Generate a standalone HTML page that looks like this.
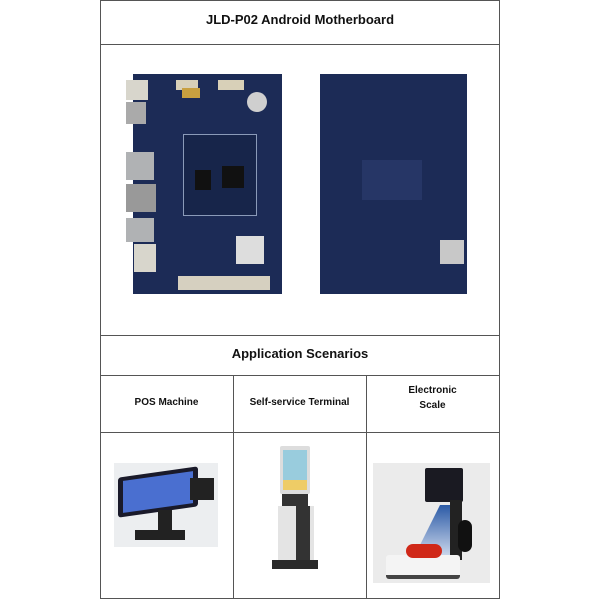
<!DOCTYPE html>
<html><head><style>
body{margin:0;width:600px;height:600px;background:#fff;position:relative;overflow:hidden;font-family:"Liberation Sans",sans-serif}
.a{position:absolute}
.l{position:absolute;background:#555}
.t{position:absolute;font-weight:bold;color:#111;text-align:center}
</style></head><body>
<div class="l" style="left:100px;top:0;width:1px;height:599px"></div>
<div class="l" style="left:499px;top:0;width:1px;height:599px"></div>
<div class="l" style="left:100px;top:0;width:400px;height:1px"></div>
<div class="l" style="left:100px;top:44px;width:400px;height:1px"></div>
<div class="l" style="left:100px;top:335px;width:400px;height:1px"></div>
<div class="l" style="left:100px;top:375px;width:400px;height:1px"></div>
<div class="l" style="left:100px;top:432px;width:400px;height:1px"></div>
<div class="l" style="left:100px;top:598px;width:400px;height:1px"></div>
<div class="l" style="left:233px;top:375px;width:1px;height:224px"></div>
<div class="l" style="left:366px;top:375px;width:1px;height:224px"></div>

<div class="t" style="left:100px;top:12px;width:400px;font-size:13px">JLD-P02 Android Motherboard</div>
<div class="t" style="left:100px;top:346px;width:400px;font-size:13px">Application Scenarios</div>
<div class="t" style="left:100px;top:397px;width:133px;font-size:10px">POS Machine</div>
<div class="t" style="left:233px;top:397px;width:133px;font-size:10px">Self-service Terminal</div>
<div class="t" style="left:366px;top:383px;width:133px;font-size:10px;line-height:15px">Electronic<br>Scale</div>

<!-- boards -->
<div class="a" style="left:133px;top:74px;width:149px;height:220px;background:#1c2b56"></div>
<div class="a" style="left:176px;top:80px;width:22px;height:10px;background:#d8d0b8"></div>
<div class="a" style="left:218px;top:80px;width:26px;height:10px;background:#d8d0b8"></div>
<div class="a" style="left:182px;top:88px;width:18px;height:10px;background:#c8a040"></div>
<div class="a" style="left:126px;top:80px;width:22px;height:20px;background:#d8d6cc"></div>
<div class="a" style="left:126px;top:102px;width:20px;height:22px;background:#aaa"></div>
<div class="a" style="left:126px;top:152px;width:28px;height:28px;background:#b0b2b4"></div>
<div class="a" style="left:126px;top:184px;width:30px;height:28px;background:#999"></div>
<div class="a" style="left:126px;top:218px;width:28px;height:24px;background:#b0b2b4"></div>
<div class="a" style="left:134px;top:244px;width:22px;height:28px;background:#d8d6cc"></div>
<div class="a" style="left:183px;top:134px;width:72px;height:80px;background:#17254a;border:1px solid #8a9ab8"></div>
<div class="a" style="left:222px;top:166px;width:22px;height:22px;background:#111"></div>
<div class="a" style="left:195px;top:170px;width:16px;height:20px;background:#111"></div>
<div class="a" style="left:247px;top:92px;width:20px;height:20px;border-radius:50%;background:#cfcfcf"></div>
<div class="a" style="left:178px;top:276px;width:92px;height:14px;background:#d6d0c0"></div>
<div class="a" style="left:236px;top:236px;width:28px;height:28px;background:#ddd"></div>
<div class="a" style="left:320px;top:74px;width:147px;height:220px;background:#1c2b56"></div>
<div class="a" style="left:362px;top:160px;width:60px;height:40px;background:#263666"></div>
<div class="a" style="left:440px;top:240px;width:24px;height:24px;background:#c8c8c8"></div>

<!-- POS -->
<div class="a" style="left:114px;top:463px;width:104px;height:84px;background:#eceef0"></div>
<div class="a" style="left:118px;top:472px;width:80px;height:40px;background:#1a1a2a;transform:skewY(-8deg);border-radius:3px"></div>
<div class="a" style="left:123px;top:476px;width:70px;height:32px;background:#4a6fd0;transform:skewY(-8deg)"></div>
<div class="a" style="left:190px;top:478px;width:24px;height:22px;background:#222"></div>
<div class="a" style="left:158px;top:510px;width:14px;height:22px;background:#222"></div>
<div class="a" style="left:135px;top:530px;width:50px;height:10px;background:#222"></div>

<!-- Kiosk -->
<div class="a" style="left:280px;top:446px;width:30px;height:48px;background:#ddd;border-radius:2px"></div>
<div class="a" style="left:283px;top:450px;width:24px;height:40px;background:#9cd"></div>
<div class="a" style="left:283px;top:480px;width:24px;height:10px;background:#ec6"></div>
<div class="a" style="left:282px;top:494px;width:26px;height:12px;background:#333"></div>
<div class="a" style="left:278px;top:506px;width:36px;height:58px;background:#e4e4e4"></div>
<div class="a" style="left:296px;top:506px;width:14px;height:58px;background:#333"></div>
<div class="a" style="left:272px;top:560px;width:46px;height:9px;background:#2a2a2a"></div>

<!-- Scale -->
<div class="a" style="left:373px;top:463px;width:117px;height:120px;background:#ebebeb"></div>
<div class="a" style="left:425px;top:468px;width:38px;height:34px;background:#1a1a22;border-radius:2px"></div>
<div class="a" style="left:410px;top:505px;width:50px;height:60px;background:linear-gradient(#2b5aa6,#e8eef8);clip-path:polygon(60% 0,100% 0,100% 100%,0 100%)"></div>
<div class="a" style="left:450px;top:500px;width:12px;height:60px;background:#222"></div>
<div class="a" style="left:458px;top:520px;width:14px;height:32px;background:#111;border-radius:7px"></div>
<div class="a" style="left:386px;top:555px;width:74px;height:20px;background:#f4f4f4;border-bottom:4px solid #444;border-radius:3px"></div>
<div class="a" style="left:406px;top:544px;width:36px;height:14px;background:#d02818;border-radius:7px"></div>
</body></html>
